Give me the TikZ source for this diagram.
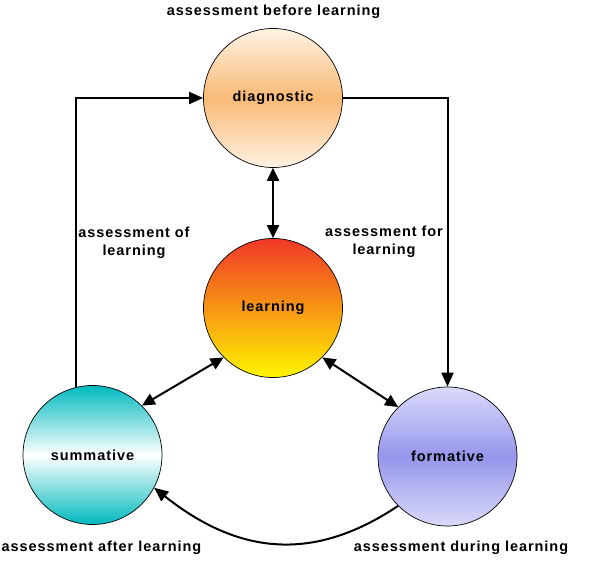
\documentclass[tikz,border=0pt]{standalone}
\usepackage{fontspec}
\setmainfont{Liberation Sans}[LetterSpace=6.5]
\usetikzlibrary{arrows.meta}
\definecolor{diagEdge}{RGB}{255,242,228}
\definecolor{diagMid}{RGB}{249,186,118}
\definecolor{learnTop}{RGB}{240,55,40}
\definecolor{learnBot}{RGB}{255,245,0}
\definecolor{sumEdge}{RGB}{0,186,190}
\definecolor{formEdge}{RGB}{218,218,250}
\definecolor{formMid}{RGB}{150,150,236}
\tikzset{
  bubble/.style={circle, draw=black, line width=0.7pt, minimum size=139pt, inner sep=0pt,
    font=\fontsize{14.5}{17}\selectfont\bfseries},
  lbl/.style={font=\fontsize{14.5}{18}\selectfont\bfseries, align=center, inner sep=0pt},
  conn/.style={line width=2pt, -{Triangle[length=14pt,width=12pt]}},
  dconn/.style={line width=2pt, {Triangle[length=13pt,width=12pt]}-{Triangle[length=13pt,width=12pt]}}
}
\begin{document}
\begin{tikzpicture}[x=1pt,y=1pt]
\useasboundingbox (0,0) rectangle (589,560);
\node[bubble, top color=diagEdge, bottom color=diagEdge, middle color=diagMid] (diag) at (273,462) {diagnostic};
\node[bubble, top color=learnTop, bottom color=learnBot] (learn) at (273,252) {learning};
\node[bubble, top color=sumEdge, bottom color=sumEdge, middle color=white] (sum) at (92.5,105) {summative};
\node[bubble, top color=formEdge, bottom color=formEdge, middle color=formMid] (form) at (447.5,103.5) {formative};

\node[lbl] (tbefore) at (273.5,548.5) {assessment before learning};
\node[lbl] (tof) at (134,317.5) {assessment of\\learning};
\node[lbl] (tfor) at (384,318.5) {assessment for\\learning};
\node[lbl] (tafter) at (101.5,12.5) {assessment after learning};
\node[lbl] (tduring) at (461,12.5) {assessment during learning};

\draw[conn] (sum.104) |- (diag.west);
\draw[conn] (diag.east) -| (form.north);
\draw[dconn] (diag.south) -- (learn.north);
\draw[dconn] (learn.225) -- (sum.45);
\draw[dconn] (learn.-45) -- (form.135);
\draw[conn] (form.225) .. controls (320,2) and (245,0) .. (sum.-28);
\end{tikzpicture}
\end{document}
